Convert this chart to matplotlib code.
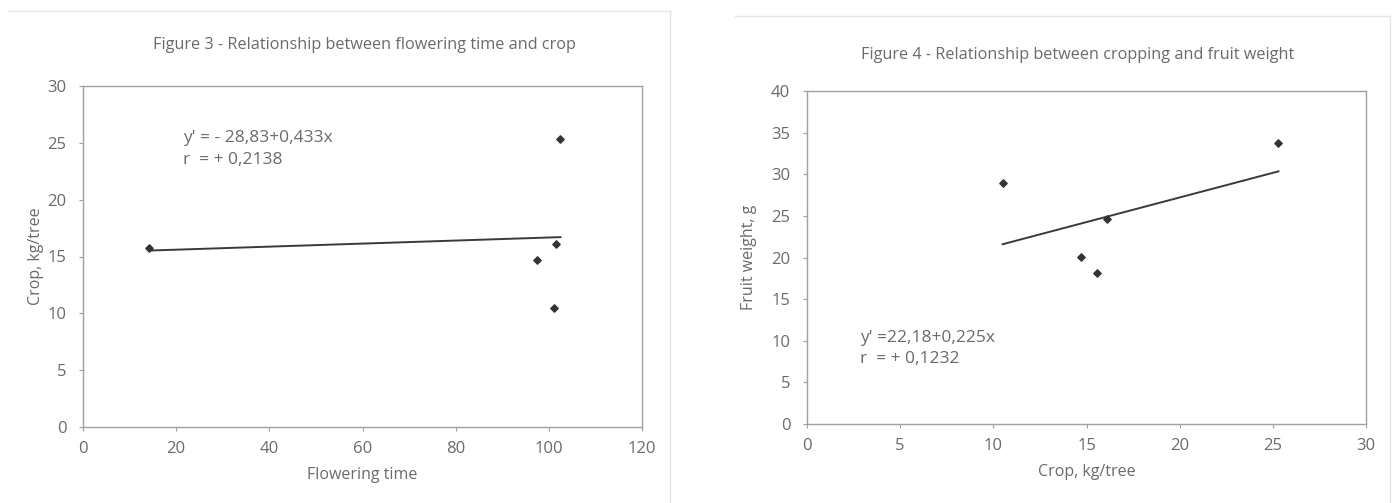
import matplotlib.pyplot as plt
import numpy as np
from matplotlib.lines import Line2D

plt.rcParams['font.family'] = ['Open Sans', 'DejaVu Sans']

# Figure 3 data: flowering time vs crop
flower_time = [14.2, 97.5, 101.5, 101.1, 102.5]
crop_fig3 = [15.74, 14.66, 16.1, 10.44, 25.3]

# Figure 4 data: crop vs fruit weight
crop_fig4 = [10.5, 14.7, 15.55, 16.09, 25.3]
fruit_weight = [28.9, 20.1, 18.1, 24.6, 33.8]

txt = '#6a6a6a'
spine = '#a0a0a0'

fig = plt.figure(figsize=(13.95, 5.03), dpi=100)

# faint frames around each chart area
fig.add_artist(Line2D([8/1395, 670/1395], [1-11/503, 1-11/503], color='#e6e6e6', lw=1))
fig.add_artist(Line2D([670/1395, 670/1395], [0, 1-11/503], color='#e6e6e6', lw=1))
fig.add_artist(Line2D([735/1395, 1390/1395], [1-16/503, 1-16/503], color='#e6e6e6', lw=1))
fig.add_artist(Line2D([1390/1395, 1390/1395], [0, 1-16/503], color='#e6e6e6', lw=1))


def style(ax):
    for s in ax.spines.values():
        s.set_color(spine)
        s.set_linewidth(1)
    ax.tick_params(colors=spine, labelcolor=txt, labelsize=12, length=3, width=0.8)
    ax.tick_params(axis='x', pad=7)
    ax.tick_params(axis='y', pad=9)


def trend(ax, x, y):
    k, b = np.polyfit(x, y, 1)
    xs = np.array([min(x), max(x)])
    ax.plot(xs, k * xs + b, color='#3a3a3a', lw=1.4)


# ---- Figure 3 ----
ax1 = fig.add_axes([83/1395, 1-427/503, 559/1395, 341/503])
trend(ax1, flower_time, crop_fig3)
ax1.scatter(flower_time, crop_fig3, marker='D', s=14, color='#333333', zorder=3)
ax1.set_xlim(0, 120)
ax1.set_ylim(0, 30)
ax1.set_xticks(np.arange(0, 121, 20))
ax1.set_yticks(np.arange(0, 31, 5))
style(ax1)
ax1.set_xlabel('Flowering time', color=txt, fontsize=11.5, labelpad=7)
ax1.set_ylabel('Crop, kg/tree', color=txt, fontsize=11.5, labelpad=2)
ax1.text(21.5, 25.4, "y' = - 28,83+0,433x", color=txt, fontsize=12.5, va='center')
ax1.text(21.5, 23.5, "r  = + 0,2138", color=txt, fontsize=12.5, va='center')
fig.text(364/1395, 1-45/503, 'Figure 3 - Relationship between flowering time and crop',
         ha='center', va='center', color=txt, fontsize=11.7)

# ---- Figure 4 ----
ax2 = fig.add_axes([807/1395, 1-424/503, 559/1395, 333/503])
trend(ax2, crop_fig4, fruit_weight)
ax2.scatter(crop_fig4, fruit_weight, marker='D', s=14, color='#333333', zorder=3)
ax2.set_xlim(0, 30)
ax2.set_ylim(0, 40)
ax2.set_xticks(np.arange(0, 31, 5))
ax2.set_yticks(np.arange(0, 41, 5))
style(ax2)
ax2.set_xlabel('Crop, kg/tree', color=txt, fontsize=11.5, labelpad=7)
ax2.set_ylabel('Fruit weight, g', color=txt, fontsize=11.5, labelpad=10)
ax2.text(2.84, 10.3, "y' =22,18+0,225x", color=txt, fontsize=12.5, va='center')
ax2.text(2.84, 7.8, "r  = + 0,1232", color=txt, fontsize=12.5, va='center')
fig.text(1078/1395, 1-55/503, 'Figure 4 - Relationship between cropping and fruit weight',
         ha='center', va='center', color=txt, fontsize=11.7)

plt.savefig('out.png', dpi=100)
